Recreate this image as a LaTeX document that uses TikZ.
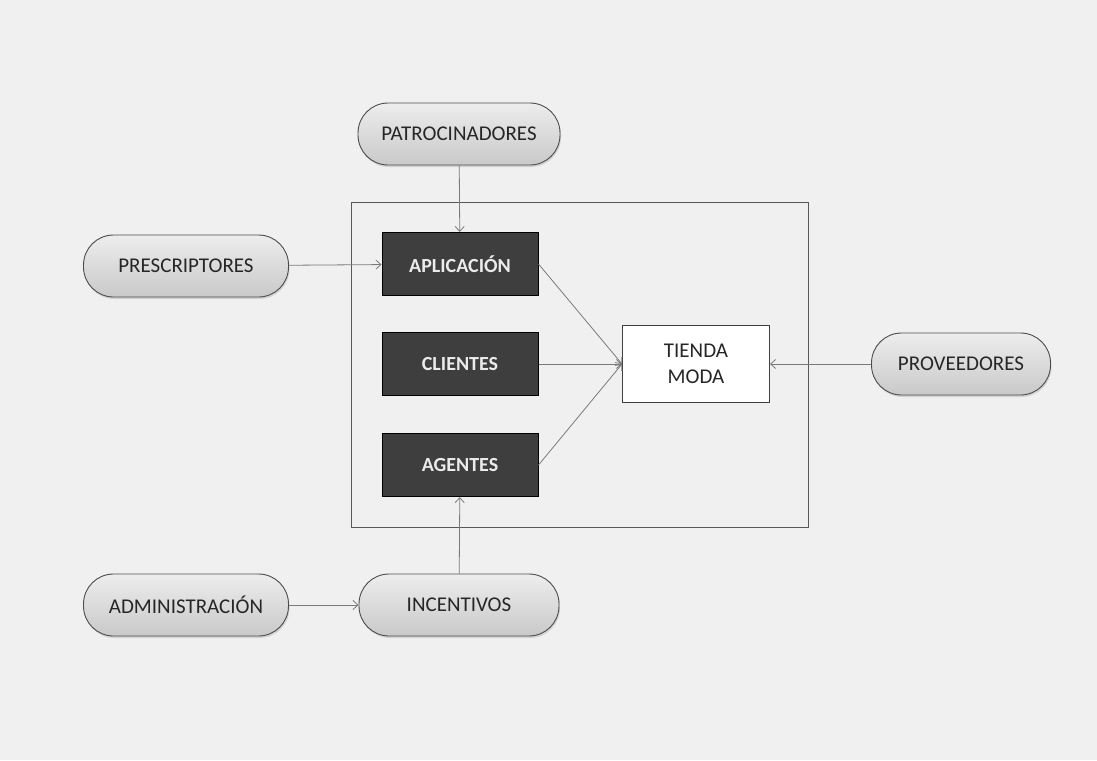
\documentclass[tikz,border=0pt]{standalone}
\usepackage{fontspec}
\setmainfont{Carlito}
\usetikzlibrary{arrows.meta,shadows}
\definecolor{bg}{HTML}{F0F0F0}
\definecolor{capTop}{HTML}{EDEDED}
\definecolor{capBot}{HTML}{C9C9C9}
\definecolor{darkbox}{HTML}{3E3E3E}
\definecolor{linegray}{HTML}{7A7A7A}
\tikzset{
  capsule/.style={draw=black!70, line width=0.9pt, rounded corners=30pt,
    top color=capTop, bottom color=capBot, minimum height=62pt,
    drop shadow={shadow xshift=1pt, shadow yshift=-2pt, fill=black!25, opacity=0.6},
    font=\fontsize{21}{25}\selectfont, text=black!85},
  darkbox/.style={draw=black, line width=1pt, fill=darkbox, minimum width=156pt,
    minimum height=63pt, text=white!92!black, font=\bfseries\fontsize{20}{24}\selectfont},
  tienda/.style={draw=black!75, line width=1pt, fill=white, minimum width=147pt,
    minimum height=77pt, align=center, font=\fontsize{21}{26}\selectfont, text=black!85},
  conn/.style={draw=linegray, line width=0.8pt, -{Straight Barb[length=5pt,width=9pt]}},
  frame/.style={draw=black!65, line width=1pt}
}
\begin{document}
\begin{tikzpicture}[x=1pt,y=-1pt]
\fill[bg] (0,0) rectangle (1097,760);
\useasboundingbox (0,0) rectangle (1097,760);
\draw[frame] (351,202) rectangle (808,527);
\node[capsule, minimum width=202pt] (pat) at (459,134) {PATROCINADORES};
\node[capsule, minimum width=205pt] (pre) at (186,266) {PRESCRIPTORES};
\node[capsule, minimum width=179pt] (pro) at (961,364) {PROVEEDORES};
\node[capsule, minimum width=205pt] (adm) at (186,605) {ADMINISTRACIÓN};
\node[capsule, minimum width=200pt] (inc) at (459,605) {INCENTIVOS};
\node[darkbox] (apl) at (460,264) {APLICACIÓN};
\node[darkbox] (cli) at (460,364) {CLIENTES};
\node[darkbox] (age) at (460,465) {AGENTES};
\node[tienda] (tie) at (696,364) {TIENDA\\MODA};
\draw[conn] (pat) -- (apl);
\draw[conn] (pre) -- (apl);
\draw[conn] (apl.east) -- (tie.west);
\draw[conn] (cli.east) -- (tie.west);
\draw[conn] (age.east) -- (tie.west);
\draw[conn] (pro) -- (tie);
\draw[conn] (adm) -- (inc);
\draw[conn] (inc) -- (age);
\end{tikzpicture}
\end{document}
